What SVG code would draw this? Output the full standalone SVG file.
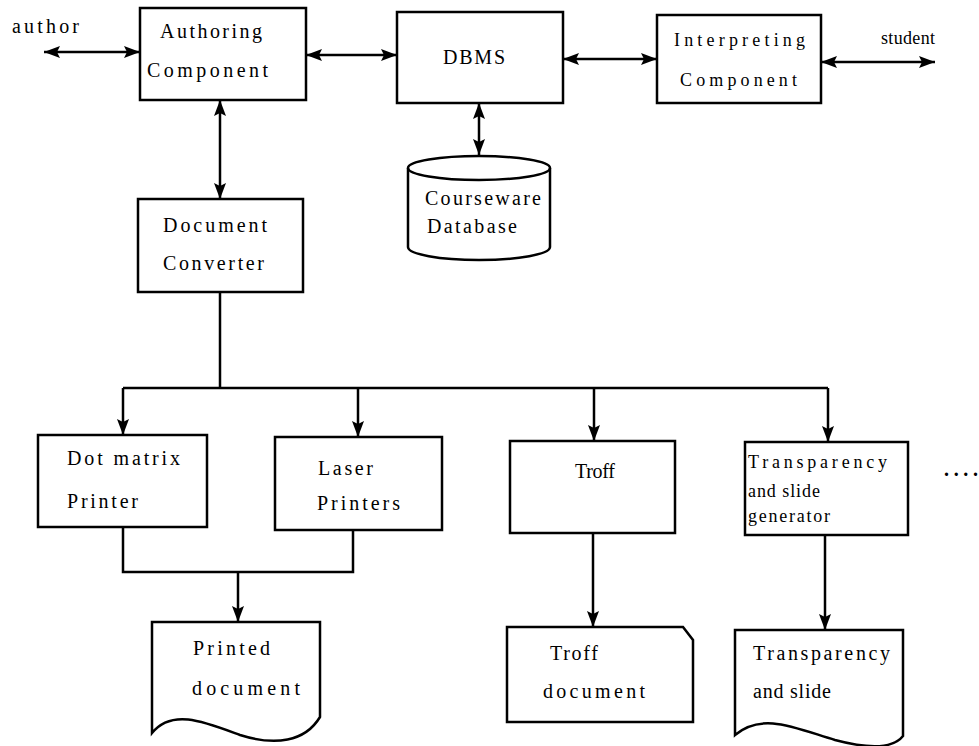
<svg xmlns="http://www.w3.org/2000/svg" width="979" height="746" viewBox="0 0 979 746">
<defs>
<marker id="ah" markerUnits="userSpaceOnUse" markerWidth="17" markerHeight="13" refX="16" refY="6" orient="auto-start-reverse">
<path d="M0,0 L16,6 L0,12 L3,6 Z" fill="#000"/>
</marker>
<style>
.box{fill:#fff;stroke:#000;stroke-width:2.5}
.ln{fill:none;stroke:#000;stroke-width:2.5}
.t{font-family:"Liberation Serif","Times New Roman",serif;font-size:20px;fill:#000}
.s{font-size:18px}
</style>
</defs>
<rect width="979" height="746" fill="#fff"/>
<g id="connectors">
<line class="ln" x1="44" y1="52" x2="140" y2="52" marker-start="url(#ah)" marker-end="url(#ah)"/>
<line class="ln" x1="306" y1="55" x2="397" y2="55" marker-start="url(#ah)" marker-end="url(#ah)"/>
<line class="ln" x1="563" y1="59" x2="657" y2="59" marker-start="url(#ah)" marker-end="url(#ah)"/>
<line class="ln" x1="821" y1="62" x2="935" y2="62" marker-start="url(#ah)" marker-end="url(#ah)"/>
<line class="ln" x1="479" y1="103" x2="479" y2="155" marker-start="url(#ah)" marker-end="url(#ah)"/>
<line class="ln" x1="220" y1="100" x2="220" y2="199" marker-start="url(#ah)" marker-end="url(#ah)"/>
<polyline class="ln" points="220,292 220,388"/>
<line class="ln" x1="123" y1="388" x2="828" y2="388"/>
<line class="ln" x1="123" y1="388" x2="123" y2="435" marker-end="url(#ah)"/>
<line class="ln" x1="358" y1="388" x2="358" y2="437" marker-end="url(#ah)"/>
<line class="ln" x1="594" y1="388" x2="594" y2="441" marker-end="url(#ah)"/>
<line class="ln" x1="828" y1="388" x2="828" y2="442" marker-end="url(#ah)"/>
<polyline class="ln" points="123,527 123,572 353,572 353,530"/>
<line class="ln" x1="238" y1="572" x2="238" y2="622" marker-end="url(#ah)"/>
<line class="ln" x1="593" y1="533" x2="593" y2="627" marker-end="url(#ah)"/>
<line class="ln" x1="825" y1="535" x2="825" y2="630" marker-end="url(#ah)"/>
</g>
<g id="author"><text class="t" x="12" y="33" textLength="67" lengthAdjust="spacing">author</text></g>
<g id="student"><text class="t s" x="881" y="44" textLength="54" lengthAdjust="spacing">student</text></g>
<g id="authoring">
<rect class="box" x="140" y="8" width="166" height="92"/>
<text class="t" x="160" y="38" textLength="102" lengthAdjust="spacing">Authoring</text>
<text class="t" x="147" y="77" textLength="121" lengthAdjust="spacing">Component</text>
</g>
<g id="dbms">
<rect class="box" x="397" y="12" width="166" height="91"/>
<text class="t" x="443" y="64" textLength="62" lengthAdjust="spacing">DBMS</text>
</g>
<g id="interpreting">
<rect class="box" x="657" y="15" width="164" height="88"/>
<text class="t s" x="674" y="46" textLength="131" lengthAdjust="spacing">Interpreting</text>
<text class="t s" x="680" y="86" textLength="117" lengthAdjust="spacing">Component</text>
</g>
<g id="database">
<path class="box" d="M408,168 A71,12 0 0 1 550,168 L550,247 A71,13 0 0 1 408,247 Z"/>
<path class="ln" d="M408,168 A71,12 0 0 0 550,168"/>
<text class="t" x="425" y="205" textLength="116" lengthAdjust="spacing">Courseware</text>
<text class="t" x="427" y="233" textLength="90" lengthAdjust="spacing">Database</text>
</g>
<g id="converter">
<rect class="box" x="138" y="199" width="165" height="93"/>
<text class="t" x="163" y="232" textLength="104" lengthAdjust="spacing">Document</text>
<text class="t" x="163" y="270" textLength="101" lengthAdjust="spacing">Converter</text>
</g>
<g id="dotmatrix">
<rect class="box" x="38" y="435" width="169" height="92"/>
<text class="t" x="67" y="465" textLength="113" lengthAdjust="spacing">Dot matrix</text>
<text class="t" x="67" y="508" textLength="71" lengthAdjust="spacing">Printer</text>
</g>
<g id="laser">
<rect class="box" x="275" y="437" width="167" height="93"/>
<text class="t" x="318" y="475" textLength="55" lengthAdjust="spacing">Laser</text>
<text class="t" x="317" y="510" textLength="83" lengthAdjust="spacing">Printers</text>
</g>
<g id="troff">
<rect class="box" x="510" y="441" width="165" height="92"/>
<text class="t" x="575" y="478" textLength="40" lengthAdjust="spacing">Troff</text>
</g>
<g id="transparency">
<rect class="box" x="745" y="442" width="163" height="93"/>
<text class="t s" x="748" y="468" textLength="139" lengthAdjust="spacing">Transparency</text>
<text class="t s" x="748" y="497" textLength="72" lengthAdjust="spacing">and slide</text>
<text class="t s" x="748" y="522" textLength="82" lengthAdjust="spacing">generator</text>
</g>
<g id="ellipsis"><text class="t" x="944" y="476" font-weight="bold" font-size="24" textLength="34" lengthAdjust="spacing">....</text></g>
<g id="printed">
<path class="box" d="M152,622 L320,622 L320,717 C305,742 275,746 240,735 C205,722 172,708 152,733 Z"/>
<text class="t" x="193" y="655" textLength="77" lengthAdjust="spacing">Printed</text>
<text class="t" x="192" y="695" textLength="108" lengthAdjust="spacing">document</text>
</g>
<g id="troffdoc">
<path class="box" d="M507,627 L683,627 L693,640 L693,722 L507,722 Z"/>
<text class="t" x="550" y="660" textLength="48" lengthAdjust="spacing">Troff</text>
<text class="t" x="543" y="698" textLength="102" lengthAdjust="spacing">document</text>
</g>
<g id="transpdoc">
<path class="box" d="M735,630 L903,630 L903,736 C892,750 865,748 835,740 C795,728 762,712 735,735 Z"/>
<text class="t" x="753" y="660" textLength="137" lengthAdjust="spacing">Transparency</text>
<text class="t" x="753" y="698" textLength="78" lengthAdjust="spacing">and slide</text>
</g>
</svg>
